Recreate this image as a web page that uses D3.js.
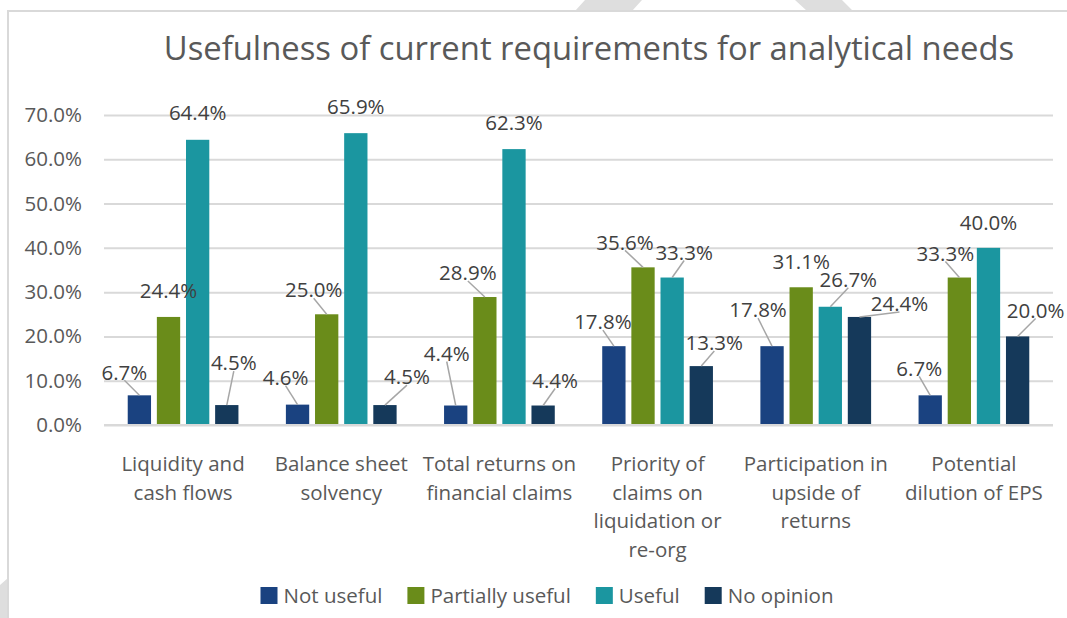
<!DOCTYPE html>
<html>
<head>
<meta charset="utf-8">
<script src="https://cdn.jsdelivr.net/npm/d3@7"></script>
<style>
  html, body { margin: 0; padding: 0; background: #fff; }
  svg { display: block; font-family: "Open Sans", "Noto Sans", sans-serif; }
</style>
</head>
<body>
<div id="chart"></div>
<script>
// survey answers, percent of respondents
var categories = [
    "Liquidity and\ncash flows",
    "Balance sheet\nsolvency",
    "Total returns on\nfinancial claims",
    "Priority of\nclaims on\nliquidation or\nre-org",
    "Participation in\nupside of\nreturns",
    "Potential\ndilution of EPS"
];
var seriesNames = ["Not useful", "Partially useful", "Useful", "No opinion"];
var notUseful       = [6.7, 4.6, 4.4, 17.8, 17.8, 6.7];
var partiallyUseful = [24.4, 25.0, 28.9, 35.6, 31.1, 33.3];
var useful          = [64.4, 65.9, 62.3, 33.3, 26.7, 40.0];
var noOpinion       = [4.5, 4.5, 4.4, 13.3, 24.4, 20.0];
var yTicks = [0, 10, 20, 30, 40, 50, 60, 70];

var colors = ["#1a4280", "#6a8c1a", "#1b96a0", "#15395a"];

// label nudges (dx, dy from the bar top), the way Excel left them after dragging
var labelNudge = [
    [[-15, -23], [0, -26], [0, -27], [7, -42]],
    [[-12, -27], [-13, -24], [0, -26], [22, -28]],
    [[-9, -52], [-17, -24], [0, -26], [12, -25]],
    [[-11, -24], [-18, -25], [12, -25], [13, -23]],
    [[-14, -36], [0, -25], [18, -27], [40, -13]],
    [[-11, -27], [-14, -24], [0, -25], [18, -26]]
];

var W = 1067, H = 618;
var margin = {top: 115, right: 14, bottom: 193, left: 104},
    width = W - margin.left - margin.right,
    height = H - margin.top - margin.bottom;
var fs = "20.5px";

var svg = d3.select("#chart").append("svg")
    .attr("width", W)
    .attr("height", H);

// faint watermark bits peeking out round the chart frame
svg.append("path")
    .attr("d", "M585,0 L642,0 L632,11 L575,11 Z M795,0 L842,0 L853,11 L807,11 Z M0,585 L8,578 L8,618 L0,618 Z")
    .style("fill", "#dedede");

svg.append("rect")
    .attr("x", 8).attr("y", 11)
    .attr("width", W).attr("height", H)
    .style("fill", "#fff")
    .style("stroke", "#d9d9d9")
    .style("stroke-width", 2);

svg.append("text")
    .attr("x", 589)
    .attr("y", 60)
    .attr("text-anchor", "middle")
    .style("font-size", "32.8px")
    .style("fill", "#595959")
    .text("Usefulness of current requirements for analytical needs");

var g = svg.append("g")
    .attr("transform", "translate(" + margin.left + "," + margin.top + ")");

var series = [notUseful, partiallyUseful, useful, noOpinion];
var data = categories.map(function(c, i) {
    return {cat: c, ind: i, vals: series.map(function(s, j) { return {key: j, val: s[i], ind: i}; })};
});

var x0 = d3.scaleBand()
    .domain(d3.range(categories.length))
    .range([0, width])
    .paddingInner(0.3)
    .paddingOuter(0.15);

var x1 = d3.scaleBand()
    .domain(d3.range(seriesNames.length))
    .range([0, x0.bandwidth()])
    .paddingInner(0.2);

var y = d3.scaleLinear()
    .domain([0, 70])
    .range([height, 0]);

// horizontal grid
g.append("g")
    .attr("class", "grid")
    .call(d3.axisLeft(y).tickValues(yTicks).tickSize(-width).tickFormat(""))
    .call(function(s) {
        s.select(".domain").remove();
        s.selectAll("line").style("stroke", "#d9d9d9").style("stroke-width", 2);
    });

// y labels
g.append("g")
    .attr("class", "y axis")
    .attr("transform", "translate(-19,0)")
    .call(d3.axisLeft(y).tickValues(yTicks).tickSize(0).tickFormat(function(d) { return d.toFixed(1) + "%"; }))
    .call(function(s) {
        s.select(".domain").remove();
        s.selectAll("text")
            .style("font-family", "Open Sans")
            .style("font-size", fs)
            .style("fill", "#595959");
    });

var groups = g.selectAll(".cat")
    .data(data)
    .enter().append("g")
    .attr("class", "cat")
    .attr("transform", function(d) { return "translate(" + x0(d.ind) + ",0)"; });

groups.selectAll("rect")
    .data(function(d) { return d.vals; })
    .enter().append("rect")
    .attr("x", function(d) { return x1(d.key); })
    .attr("y", function(d) { return y(d.val); })
    .attr("width", x1.bandwidth())
    .attr("height", function(d) { return height - y(d.val); })
    .style("fill", function(d) { return colors[d.key]; });

// leader lines + data labels
groups.selectAll(".leader")
    .data(function(d) { return d.vals.filter(function(v) { return labelNudge[v.ind][v.key][0] !== 0; }); })
    .enter().append("line")
    .attr("class", "leader")
    .attr("x1", function(d) { return x1(d.key) + x1.bandwidth() / 2; })
    .attr("y1", function(d) { return y(d.val); })
    .attr("x2", function(d) { return x1(d.key) + x1.bandwidth() / 2 + labelNudge[d.ind][d.key][0]; })
    .attr("y2", function(d) { return y(d.val) + labelNudge[d.ind][d.key][1] + 8; })
    .style("stroke", "#a6a6a6")
    .style("stroke-width", 1.5);

groups.selectAll(".lbl")
    .data(function(d) { return d.vals; })
    .enter().append("text")
    .attr("class", "lbl")
    .attr("x", function(d) { return x1(d.key) + x1.bandwidth() / 2 + labelNudge[d.ind][d.key][0]; })
    .attr("y", function(d) { return y(d.val) + labelNudge[d.ind][d.key][1]; })
    .attr("dy", "0.35em")
    .attr("text-anchor", "middle")
    .style("font-size", fs)
    .style("fill", "#404040")
    .text(function(d) { return d.val.toFixed(1) + "%"; });

// category labels
var xAxis = g.append("g")
    .attr("class", "x axis")
    .attr("transform", "translate(0," + height + ")");

xAxis.append("line")
    .attr("x1", 0).attr("x2", width)
    .style("stroke", "#d9d9d9")
    .style("stroke-width", 2);

xAxis.selectAll("text")
    .data(data)
    .enter().append("text")
    .attr("x", function(d) { return x0(d.ind) + x0.bandwidth() / 2; })
    .attr("y", 39)
    .attr("text-anchor", "middle")
    .style("font-size", fs)
    .style("fill", "#595959")
    .each(function(d) {
        var t = d3.select(this);
        d.cat.split("\n").forEach(function(line, k) {
            t.append("tspan")
                .attr("x", t.attr("x"))
                .attr("dy", k === 0 ? "0.35em" : "28.5px")
                .text(line);
        });
    });

// legend, centred under the plot
var legend = svg.append("g").attr("class", "legend");
var items = legend.selectAll("g")
    .data(seriesNames)
    .enter().append("g");

items.append("rect")
    .attr("width", 17).attr("height", 17)
    .attr("y", -8.5)
    .style("fill", function(d, i) { return colors[i]; });

items.append("text")
    .attr("x", 23)
    .attr("dy", "0.35em")
    .style("font-size", fs)
    .style("fill", "#595959")
    .text(function(d) { return d; });

var pos = 0;
items.each(function() {
    var w = this.getBBox().width;
    d3.select(this).attr("transform", "translate(" + pos + ",0)");
    pos += w + 25;
});
var total = pos - 25;
legend.attr("transform", "translate(" + (547 - total / 2) + ",595.5)");
</script>
</body>
</html>
